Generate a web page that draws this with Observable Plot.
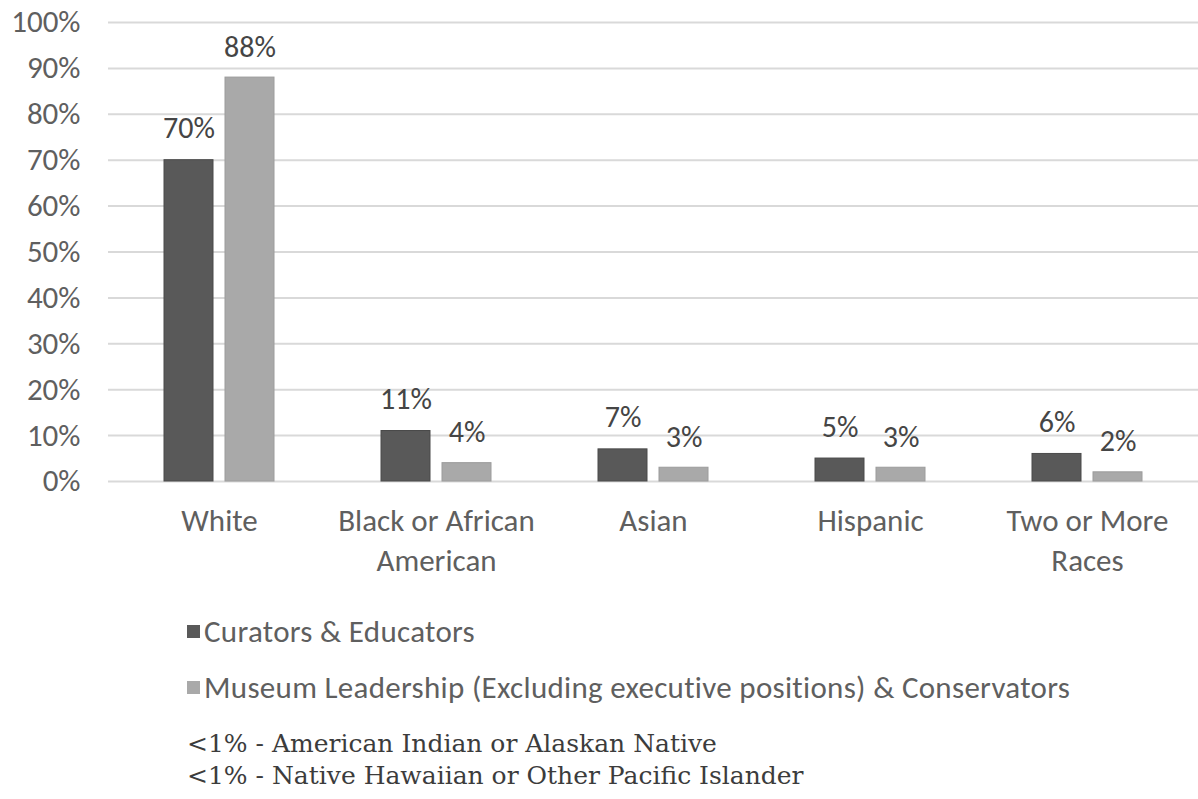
<!DOCTYPE html>
<html>
<head>
<meta charset="utf-8">
<script src="https://cdn.jsdelivr.net/npm/d3@7"></script>
<script src="https://cdn.jsdelivr.net/npm/@observablehq/plot@0.6"></script>
<style>
  html, body { margin: 0; padding: 0; background: #fff; }
  #wrap { position: relative; width: 1198px; height: 799px; overflow: hidden; }
  #chart { position: absolute; left: 0; top: 0; }
  .legend { position: absolute; left: 187px; height: 36px; line-height: 36px; font-family: Carlito, Calibri, "Open Sans", sans-serif; font-size: 31px; color: #5f5f5f; display: flex; align-items: center; white-space: nowrap; letter-spacing: 0.3px; }
  .legend .sw { width: 13px; height: 13px; margin-right: 4px; display: inline-block; flex: none; }
  .note { position: absolute; left: 187px; font-family: Georgia, "DejaVu Serif", serif; font-size: 25px; color: #3c3c3c; white-space: nowrap; line-height: 32px; }
</style>
</head>
<body>
<div id="wrap">
  <div id="chart"></div>
  <div class="legend" id="lg1" style="top:613px"></div>
  <div class="legend" id="lg2" style="top:669px"></div>
  <div class="note" id="note" style="top:728px"></div>
</div>
<script>
const categories = ["White", "Black or African American", "Asian", "Hispanic", "Two or More Races"];
const categoryLabels = ["White", "Black or African\nAmerican", "Asian", "Hispanic", "Two or More\nRaces"];
const seriesNames = ["Curators & Educators", "Museum Leadership (Excluding executive positions) & Conservators"];
const curators = [0.70, 0.11, 0.07, 0.05, 0.06];
const leadership = [0.88, 0.04, 0.03, 0.03, 0.02];
const yTicks = [0, 0.1, 0.2, 0.3, 0.4, 0.5, 0.6, 0.7, 0.8, 0.9, 1.0];
const footnotes = ["<1% - American Indian or Alaskan Native", "<1% - Native Hawaiian or Other Pacific Islander"];
const colors = ["#595959", "#a9a9a9"];

const dataCur = categories.map((c, i) => ({category: c, value: curators[i]}));
const dataLead = categories.map((c, i) => ({category: c, value: leadership[i]}));
const labelOf = new Map(categories.map((c, i) => [c, categoryLabels[i]]));
const pct = d3.format(".0%");
const fontFam = "Carlito, Calibri, 'Open Sans', sans-serif";

const chart = Plot.plot({
  width: 1198,
  height: 600,
  marginTop: 22,
  marginBottom: 119,
  marginLeft: 108,
  marginRight: 0,
  style: {fontFamily: fontFam, background: "#fff"},
  x: {domain: categories, paddingInner: 0.495, paddingOuter: 0.2477, axis: null, label: null},
  y: {domain: [0, 1], axis: null, label: null},
  marks: [
    Plot.gridY(yTicks, {stroke: "#d9d9d9", strokeOpacity: 1, strokeWidth: 2}),
    Plot.axisY(yTicks, {tickSize: 0, tickPadding: 28, tickFormat: pct, fontSize: 31, fill: "#5f5f5f", label: null}),
    Plot.axisX({tickSize: 0, tickPadding: 21, tickFormat: d => labelOf.get(d), fontSize: 31, fill: "#5f5f5f", lineHeight: 1.29, label: null}),
    Plot.barY(dataCur, {x: "category", y: "value", fill: colors[0], stroke: "#4a4a4a", strokeWidth: 1, insetRight: 61}),
    Plot.barY(dataLead, {x: "category", y: "value", fill: colors[1], stroke: "#9c9c9c", strokeWidth: 1, insetLeft: 61}),
    Plot.text(dataCur, {x: "category", y: "value", text: d => pct(d.value), dx: -30.5, dy: -22, lineAnchor: "bottom", fontSize: 30, fill: "#454545"}),
    Plot.text(dataLead, {x: "category", y: "value", text: d => pct(d.value), dx: 30.5, dy: -21, lineAnchor: "bottom", fontSize: 30, fill: "#454545"})
  ]
});
document.getElementById("chart").appendChild(chart);

function legendItem(el, color, name) {
  const sw = document.createElement("span");
  sw.className = "sw";
  sw.style.background = color;
  el.appendChild(sw);
  el.appendChild(document.createTextNode(name));
}
legendItem(document.getElementById("lg1"), colors[0], seriesNames[0]);
legendItem(document.getElementById("lg2"), colors[1], seriesNames[1]);
document.getElementById("note").innerHTML = footnotes.map(t => t.replace(/</g, "&lt;")).join("<br>");
</script>
</body>
</html>
